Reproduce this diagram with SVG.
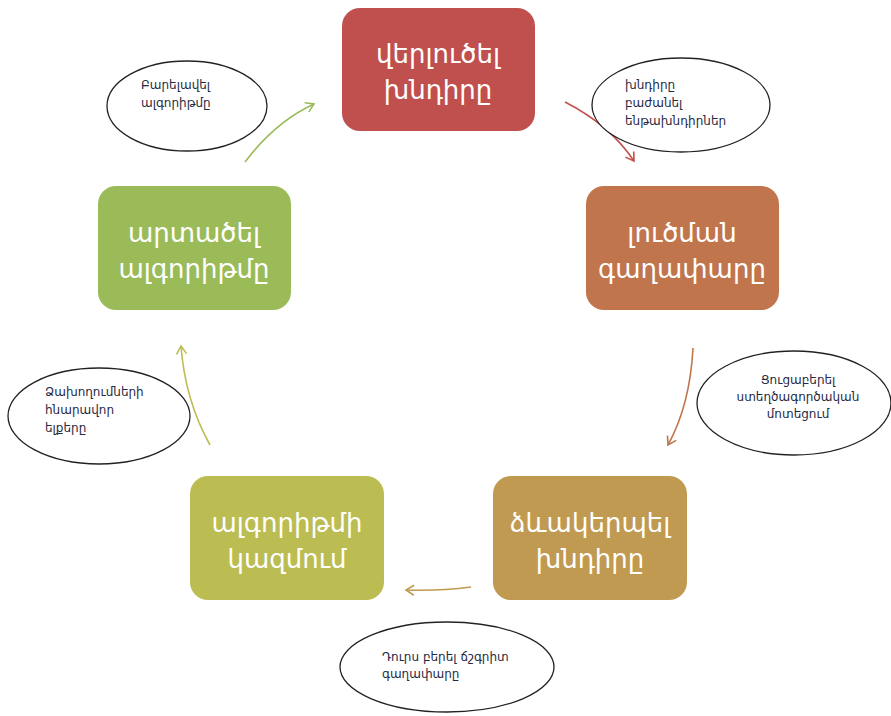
<svg xmlns="http://www.w3.org/2000/svg" width="891" height="716" viewBox="0 0 891 716">
<defs>
<style>
.box text{fill:#fff;font-family:"DejaVu Sans","Noto Sans",sans-serif;font-size:26px;text-anchor:middle}
.el ellipse{fill:#fff;stroke:#222;stroke-width:1.3}
.el text{fill:#1f2a44;font-family:"DejaVu Sans","Noto Sans",sans-serif;font-size:12px}
.con path{fill:none;stroke-width:1.6}
</style>
<marker id="mg" markerWidth="12" markerHeight="12" refX="9" refY="6" orient="auto" markerUnits="userSpaceOnUse"><path d="M1,1 L9,6 L1,11" fill="none" stroke="#9BBB59" stroke-width="1.6"/></marker>
<marker id="mr" markerWidth="12" markerHeight="12" refX="9" refY="6" orient="auto" markerUnits="userSpaceOnUse"><path d="M1,1 L9,6 L1,11" fill="none" stroke="#C0504D" stroke-width="1.6"/></marker>
<marker id="mo" markerWidth="12" markerHeight="12" refX="9" refY="6" orient="auto" markerUnits="userSpaceOnUse"><path d="M1,1 L9,6 L1,11" fill="none" stroke="#C0754D" stroke-width="1.6"/></marker>
<marker id="mt" markerWidth="12" markerHeight="12" refX="9" refY="6" orient="auto" markerUnits="userSpaceOnUse"><path d="M1,1 L9,6 L1,11" fill="none" stroke="#C09A50" stroke-width="1.6"/></marker>
<marker id="mv" markerWidth="12" markerHeight="12" refX="9" refY="6" orient="auto" markerUnits="userSpaceOnUse"><path d="M1,1 L9,6 L1,11" fill="none" stroke="#BBBD52" stroke-width="1.6"/></marker>
</defs>
<rect width="891" height="716" fill="#fff"/>
<g id="connectors" class="con">
<path d="M245,162 Q275,122 314,104" stroke="#9BBB59" marker-end="url(#mg)"/>
<path d="M565,102 Q610,125 634,161" stroke="#C0504D" marker-end="url(#mr)"/>
<path d="M693,348 Q690,405 668,445" stroke="#C0754D" marker-end="url(#mo)"/>
<path d="M471,587 Q440,591 406,590" stroke="#C09A50" marker-end="url(#mt)"/>
<path d="M210,445 Q185,400 181,346" stroke="#BBBD52" marker-end="url(#mv)"/>
</g>
<g id="n1" class="box"><rect x="342" y="8" width="193" height="123" rx="18" fill="#C0504D"/><text x="438" y="63">վերլուծել</text><text x="438" y="99">խնդիրը</text></g>
<g id="n2" class="box"><rect x="586" y="186" width="193" height="124" rx="18" fill="#C0754D"/><text x="682" y="242">լուծման</text><text x="682" y="278">գաղափարը</text></g>
<g id="n3" class="box"><rect x="493" y="476" width="194" height="124" rx="18" fill="#C09A50"/><text x="590" y="532">ձևակերպել</text><text x="590" y="568">խնդիրը</text></g>
<g id="n4" class="box"><rect x="190" y="476" width="194" height="124" rx="18" fill="#BBBD52"/><text x="287" y="532">ալգորիթմի</text><text x="287" y="568">կազմում</text></g>
<g id="n5" class="box"><rect x="98" y="186" width="193" height="124" rx="18" fill="#9BBB59"/><text x="194" y="242">արտածել</text><text x="194" y="278">ալգորիթմը</text></g>
<g id="e1" class="el"><ellipse cx="187" cy="106" rx="80" ry="45"/><text x="141" y="89">Բարելավել</text><text x="141" y="107">ալգորիթմը</text></g>
<g id="e2" class="el"><ellipse cx="681" cy="105" rx="89" ry="47"/><text x="625" y="89">խնդիրը</text><text x="625" y="107">բաժանել</text><text x="625" y="125">ենթախնդիրներ</text></g>
<g id="e3" class="el"><ellipse cx="794" cy="403" rx="97" ry="52"/><text x="798" y="384" text-anchor="middle">Ցուցաբերել</text><text x="798" y="401" text-anchor="middle">ստեղծագործական</text><text x="798" y="418" text-anchor="middle">մոտեցում</text></g>
<g id="e4" class="el"><ellipse cx="99" cy="416" rx="91" ry="48"/><text x="45" y="396">Ձախողումների</text><text x="45" y="414">հնարավոր</text><text x="45" y="432">ելքերը</text></g>
<g id="e5" class="el"><ellipse cx="447" cy="667" rx="107" ry="45"/><text x="382" y="661">Դուրս բերել ճշգրիտ</text><text x="382" y="678">գաղափարը</text></g>
</svg>
